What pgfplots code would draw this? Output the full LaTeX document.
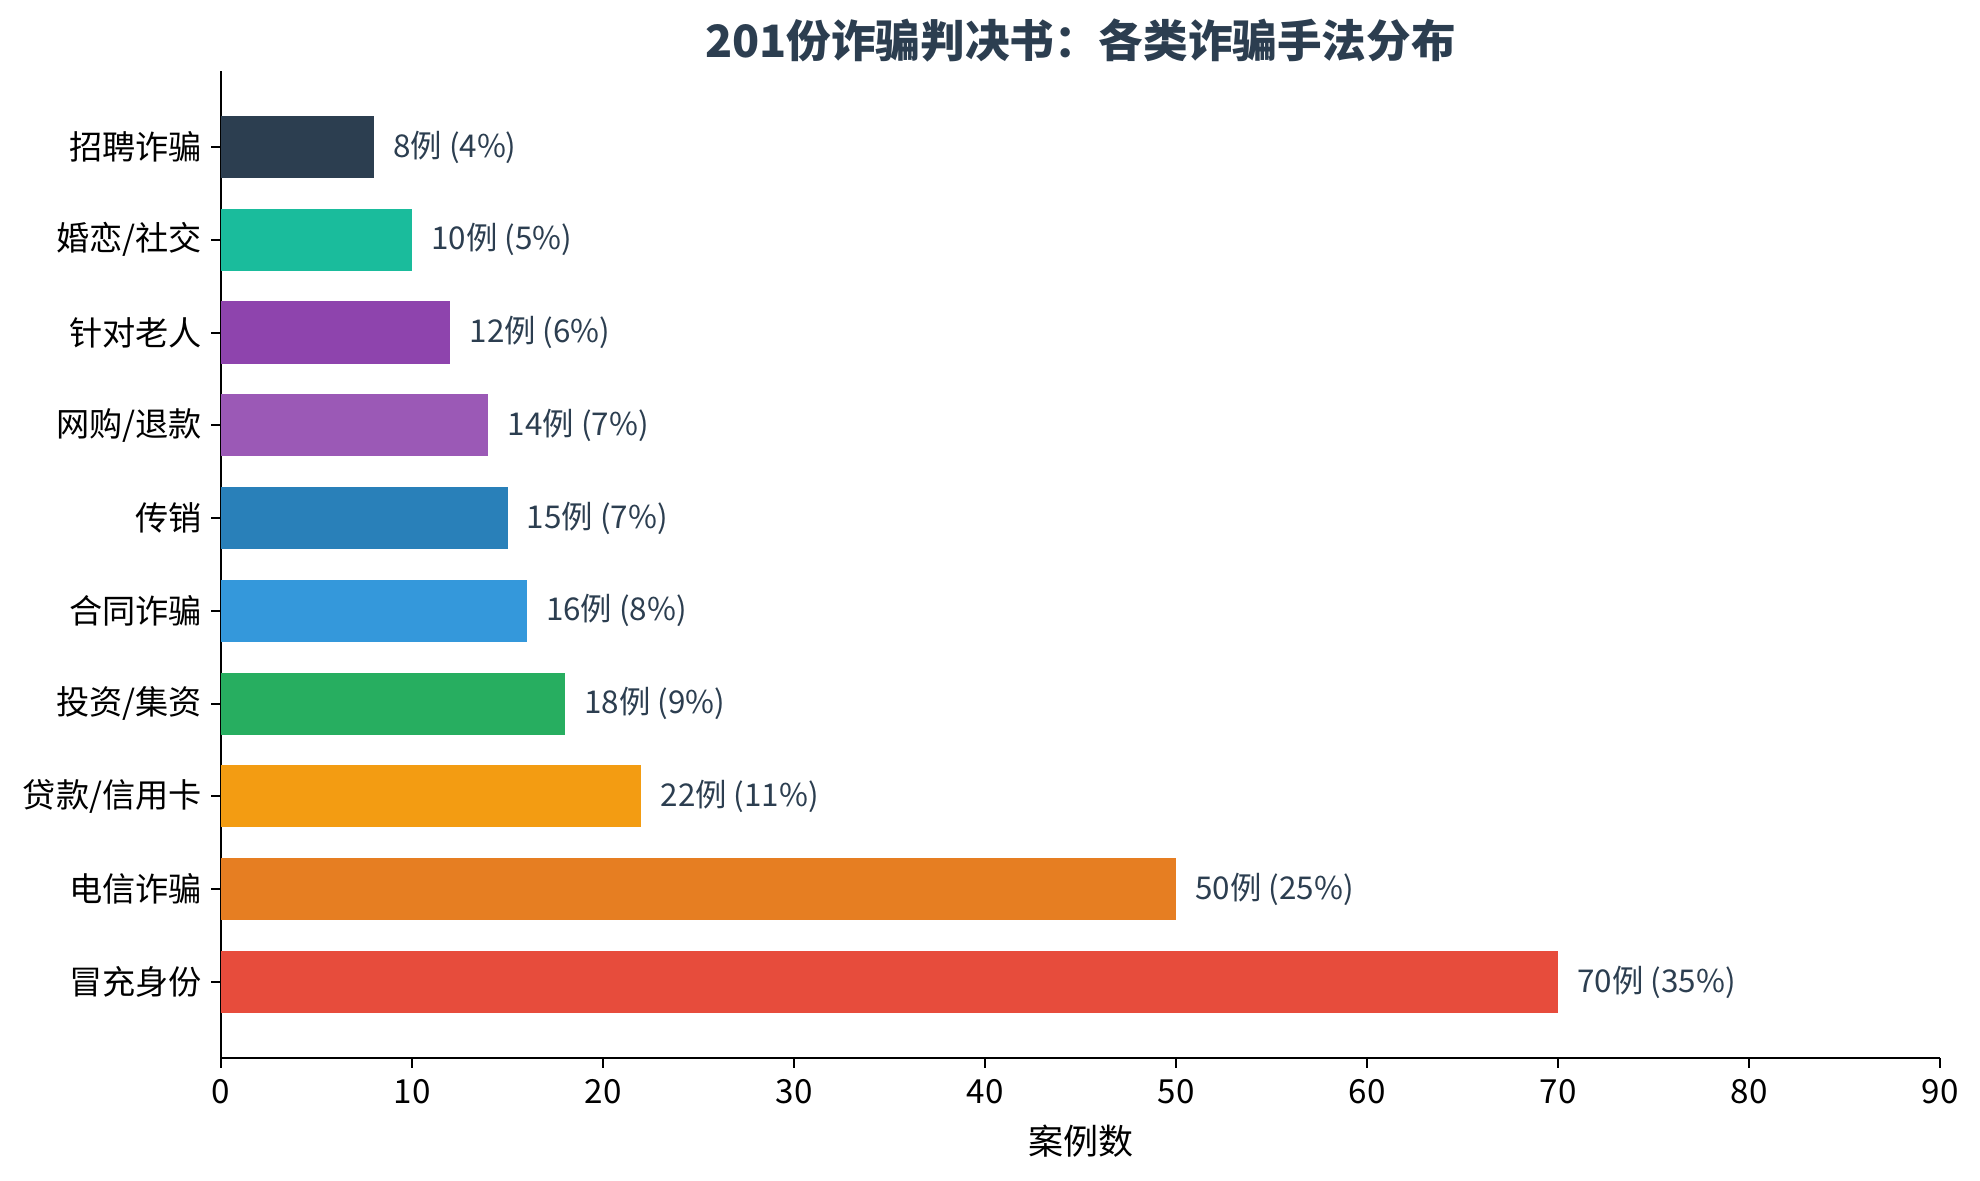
\documentclass[border=0pt]{standalone}
\usepackage{fontspec}
\setmainfont{Noto Sans CJK SC}
\usepackage{pgfplots}
\pgfplotsset{compat=1.18}
\definecolor{cA}{HTML}{E74C3C}
\definecolor{cB}{HTML}{E67E22}
\definecolor{cC}{HTML}{F39C12}
\definecolor{cD}{HTML}{27AE60}
\definecolor{cE}{HTML}{3498DB}
\definecolor{cF}{HTML}{2980B9}
\definecolor{cG}{HTML}{9B59B6}
\definecolor{cH}{HTML}{8E44AD}
\definecolor{cI}{HTML}{1ABC9C}
\definecolor{cJ}{HTML}{2C3E50}
\begin{document}
\begin{tikzpicture}[x=1pt,y=1pt]
\useasboundingbox (0,0) rectangle (990,590.5);
\begin{axis}[
  at={(110.5pt,61.5pt)}, anchor=south west,
  scale only axis, width=859.5pt, height=493.5pt,
  xmin=0, xmax=90, ymin=-0.82, ymax=9.82,
  xbar, bar width=0.67,
  axis x line*=bottom, axis y line*=left,
  axis line style={line width=1pt, black},
  every tick/.style={line width=1pt, black},
  tick align=outside, major tick length=5pt,
  xtick={0,10,...,90},
  ytick={0,...,9},
  yticklabels={冒充身份,电信诈骗,贷款/信用卡,投资/集资,合同诈骗,传销,网购/退款,针对老人,婚恋/社交,招聘诈骗},
  ticklabel style={font=\fontsize{16.6}{20}\selectfont, text=black},
  /pgf/number format/assume math mode=true,
  xticklabel style={yshift=-2pt},
  yticklabel style={xshift=-1pt},
  xlabel={案例数},
  xlabel style={at={(axis description cs:0.5,0)}, anchor=center, yshift=-41.5pt, font=\fontsize{17.5}{21}\selectfont},
  every node near coord/.append style={anchor=west, xshift=9.5pt, inner sep=0pt, font=\fontsize{15.7}{18}\selectfont, text=cJ},
  clip=false,
]
\addplot[fill=cA, draw=none, bar shift=0pt, nodes near coords={70例 (35\%)}] coordinates {(70,0)};
\addplot[fill=cB, draw=none, bar shift=0pt, nodes near coords={50例 (25\%)}] coordinates {(50,1)};
\addplot[fill=cC, draw=none, bar shift=0pt, nodes near coords={22例 (11\%)}] coordinates {(22,2)};
\addplot[fill=cD, draw=none, bar shift=0pt, nodes near coords={18例 (9\%)}] coordinates {(18,3)};
\addplot[fill=cE, draw=none, bar shift=0pt, nodes near coords={16例 (8\%)}] coordinates {(16,4)};
\addplot[fill=cF, draw=none, bar shift=0pt, nodes near coords={15例 (7\%)}] coordinates {(15,5)};
\addplot[fill=cG, draw=none, bar shift=0pt, nodes near coords={14例 (7\%)}] coordinates {(14,6)};
\addplot[fill=cH, draw=none, bar shift=0pt, nodes near coords={12例 (6\%)}] coordinates {(12,7)};
\addplot[fill=cI, draw=none, bar shift=0pt, nodes near coords={10例 (5\%)}] coordinates {(10,8)};
\addplot[fill=cJ, draw=none, bar shift=0pt, nodes near coords={8例 (4\%)}] coordinates {(8,9)};
\end{axis}
\node[font=\fontsize{22.3}{27}\selectfont\bfseries, text=cJ] at (540.25,570) {201份诈骗判决书：各类诈骗手法分布};
\end{tikzpicture}
\end{document}
